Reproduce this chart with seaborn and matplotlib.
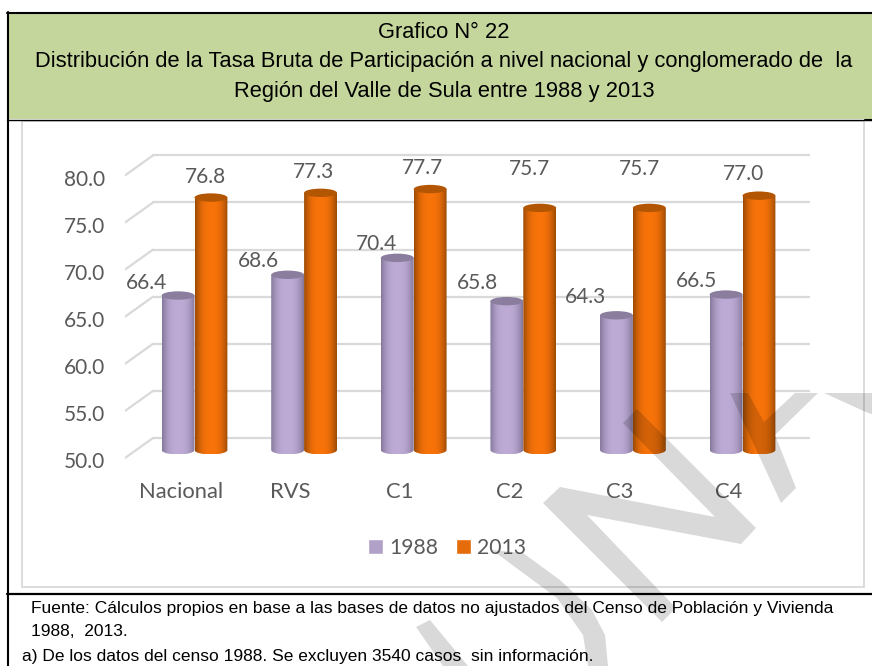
import numpy as np
import pandas as pd
import matplotlib
matplotlib.use("Agg")
import matplotlib.pyplot as plt
import seaborn as sns
from matplotlib.colors import to_rgb
from matplotlib.patches import Ellipse, PathPatch, Polygon, Rectangle
from matplotlib.path import Path
from matplotlib.transforms import ScaledTranslation

categories = ["Nacional", "RVS", "C1", "C2", "C3", "C4"]
values_1988 = [66.4, 68.6, 70.4, 65.8, 64.3, 66.5]
values_2013 = [76.8, 77.3, 77.7, 75.7, 75.7, 77.0]
y_ticks = [50, 55, 60, 65, 70, 75, 80]
series_names = ["1988", "2013"]

title_lines = ["Grafico N° 22",
               "Distribución de la Tasa Bruta de Participación a nivel nacional y conglomerado de  la",
               "Región del Valle de Sula entre 1988 y 2013"]
foot_lines = ["Fuente: Cálculos propios en base a las bases de datos no ajustados del Censo de Población y Vivienda",
              "1988,  2013.",
              "a) De los datos del censo 1988. Se excluyen 3540 casos  sin información."]

W, H = 872, 666
PX_Y = 9.42      # pixels per percentage point
PX_X = 109.6     # pixels per category
TXT = "#595959"
GRID = "#d9d9d9"
CHART_FONT = "Lato"
SANS = "Liberation Sans"

sns.set_theme(style="white", rc={"font.family": CHART_FONT})
fig = plt.figure(figsize=(W / 100, H / 100), dpi=100, facecolor="white")

# main axes placed in pixel terms: px 125..810 horizontally, 125..470 vertically
ax = fig.add_axes([125 / W, 1 - 470 / H, (810 - 125) / W, (470 - 125) / H], zorder=1)
ax.patch.set_alpha(0)

df = pd.DataFrame({
    "cat": categories * 2,
    "year": [series_names[0]] * 6 + [series_names[1]] * 6,
    "val": values_1988 + values_2013,
})
sns.barplot(data=df, x="cat", y="val", hue="year", order=categories,
            palette=["#b1a0c7", "#e46c0a"], width=0.6, gap=0, ax=ax,
            saturation=1, legend=True, errorbar=None)

ax.set_xlim((125 - 194.5) / PX_X, (810 - 194.5) / PX_X)
ylim = (50 - 20 / PX_Y, 50 + 325 / PX_Y)


def shaded(container, edge, mid, cap, offs, z):
    edge, mid = np.array(to_rgb(edge)), np.array(to_rgb(mid))
    u = np.linspace(0, 1, 64)
    t = np.abs(2 * u - 1) ** 2.6
    img = (mid[None, :] * (1 - t[:, None]) + edge[None, :] * t[:, None])[None, :, :]
    for p, (dx, dy) in zip(container.patches, offs):
        v = p.get_height()
        x0, w = p.get_x(), p.get_width()
        p.set_y(50)
        p.set_height(v - 50)
        p.set_visible(False)
        eh = 4.5 / PX_Y
        th = np.linspace(np.pi, 2 * np.pi, 30)
        bx = x0 + w / 2 + w / 2 * np.cos(th)
        by = 50 + eh * np.sin(th)
        verts = list(zip(bx, by)) + [(x0 + w, v), (x0, v), (bx[0], by[0])]
        clip = PathPatch(Path(verts), transform=ax.transData, fc="none", ec="none")
        ax.add_patch(clip)
        im = ax.imshow(img, extent=(x0, x0 + w, 50 - eh, v), aspect="auto", zorder=z,
                       interpolation="bilinear")
        im.set_clip_path(clip)
        ax.add_patch(Ellipse((x0 + w / 2, v), w, 8.4 / PX_Y, fc=cap, ec="none", zorder=z + 0.1))
        ax.annotate(f"{v:.1f}", xy=(x0 + w / 2, v), xytext=(dx, dy), textcoords="offset pixels",
                    ha="center", va="center", fontsize=15, color=TXT, zorder=z + 1)


offs_1988 = [(-32, 12.5), (-29, 13.3), (-21, 14.3), (-29, 17.7), (-31, 17.8), (-30, 13.1)]
offs_2013 = [(-6, 21), (-7, 21.3), (-8, 21.5), (-10, 38.5), (-10, 38.5), (-15, 21.2)]
shaded(ax.containers[0], "#85779a", "#bdabd6", "#8b7d9e", offs_1988, 3)
shaded(ax.containers[1], "#9a4a04", "#f8730a", "#b25603", offs_2013, 5)

ax.set_ylim(*ylim)
ax.set_ylabel("")
ax.set_xlabel("")
for s in ax.spines.values():
    s.set_visible(False)

# pseudo-3D back wall and floor lines
back = 12 / PX_Y
front = -8 / PX_Y
for v in y_ticks:
    ax.plot([(153 - 194.5) / PX_X, (810 - 194.5) / PX_X], [v + back, v + back],
            color=GRID, lw=1.6, zorder=1, solid_capstyle="round")
    ax.plot([(125 - 194.5) / PX_X, (153 - 194.5) / PX_X], [v + front, v + back],
            color=GRID, lw=1.6, zorder=1, solid_capstyle="round")

ax.set_yticks(y_ticks)
ax.set_yticklabels([f"{v:.1f}" for v in y_ticks])
ax.tick_params(axis="y", length=0, pad=14.5, labelsize=15, labelcolor=TXT)
ax.tick_params(axis="x", length=0, pad=9, labelsize=15.8, labelcolor=TXT)
for lab in ax.get_yticklabels():
    lab.set_transform(lab.get_transform() + ScaledTranslation(0, -10.5 / 100, fig.dpi_scale_trans))
for lab in ax.get_xticklabels():
    lab.set_transform(lab.get_transform() + ScaledTranslation(-13.5 / 100, 0, fig.dpi_scale_trans))

handles, labels = ax.get_legend_handles_labels()
ax.legend(handles, labels, loc="center", bbox_to_anchor=(447 / W, 1 - 548 / H),
          bbox_transform=fig.transFigure, ncol=2, frameon=False, fontsize=15.2,
          handlelength=0.7, handleheight=0.7, handletextpad=0.3, columnspacing=0.85,
          labelcolor=TXT)

# page furniture in pixel coordinates
ov = fig.add_axes([0, 0, 1, 1], zorder=2)
ov.set_xlim(0, W)
ov.set_ylim(H, 0)
ov.axis("off")
ov.add_patch(Rectangle((8, 13), W - 8, 106, fc="#c4d69c", ec="none"))
ov.add_patch(Rectangle((21.5, 120.5), 842.5, 466.5, fc="none", ec=GRID, lw=1.3))
ov.plot([7.5, 7.5], [12, H], color="black", lw=1.5)
ov.plot([7, W], [12.5, 12.5], color="black", lw=1.5)
ov.plot([7, W], [119.5, 119.5], color="black", lw=1.0)
ov.plot([865, W], [120, 120], color="black", lw=1.5)
ov.plot([7, W], [593.5, 593.5], color="black", lw=1.6)

for line, y in zip(title_lines, [32, 61, 92]):
    ov.text(444, y, line, ha="center", va="center", family=SANS, fontsize=15.77, color="black")
for line, x, y in zip(foot_lines, [31, 22 + 9, 22], [609, 632, 657]):
    ov.text(x, y, line, ha="left", va="center", family=SANS, fontsize=12.5, color="black")

watermark = [
    [(623, 423), (637, 409), (756, 528), (741, 544), (587, 515), (676, 608), (662, 622),
     (543, 503), (560, 487), (715, 517)],
    [(730, 393), (748, 393), (764, 422), (795, 393), (818, 393), (775, 435), (796, 488), (781, 503)],
    [(824, 393), (872, 393), (872, 414), (868, 413)],
    [(492, 550), (523, 553), (560, 580), (592, 610), (605, 635), (608, 666), (588, 666),
     (583, 635), (557, 598)],
    [(416, 627), (430, 620), (468, 666), (443, 666)],
]
for poly in watermark:
    ov.add_patch(Polygon(poly, closed=True, fc="black", ec="none", alpha=0.15, zorder=10))

fig.savefig("out.png", dpi=100)
